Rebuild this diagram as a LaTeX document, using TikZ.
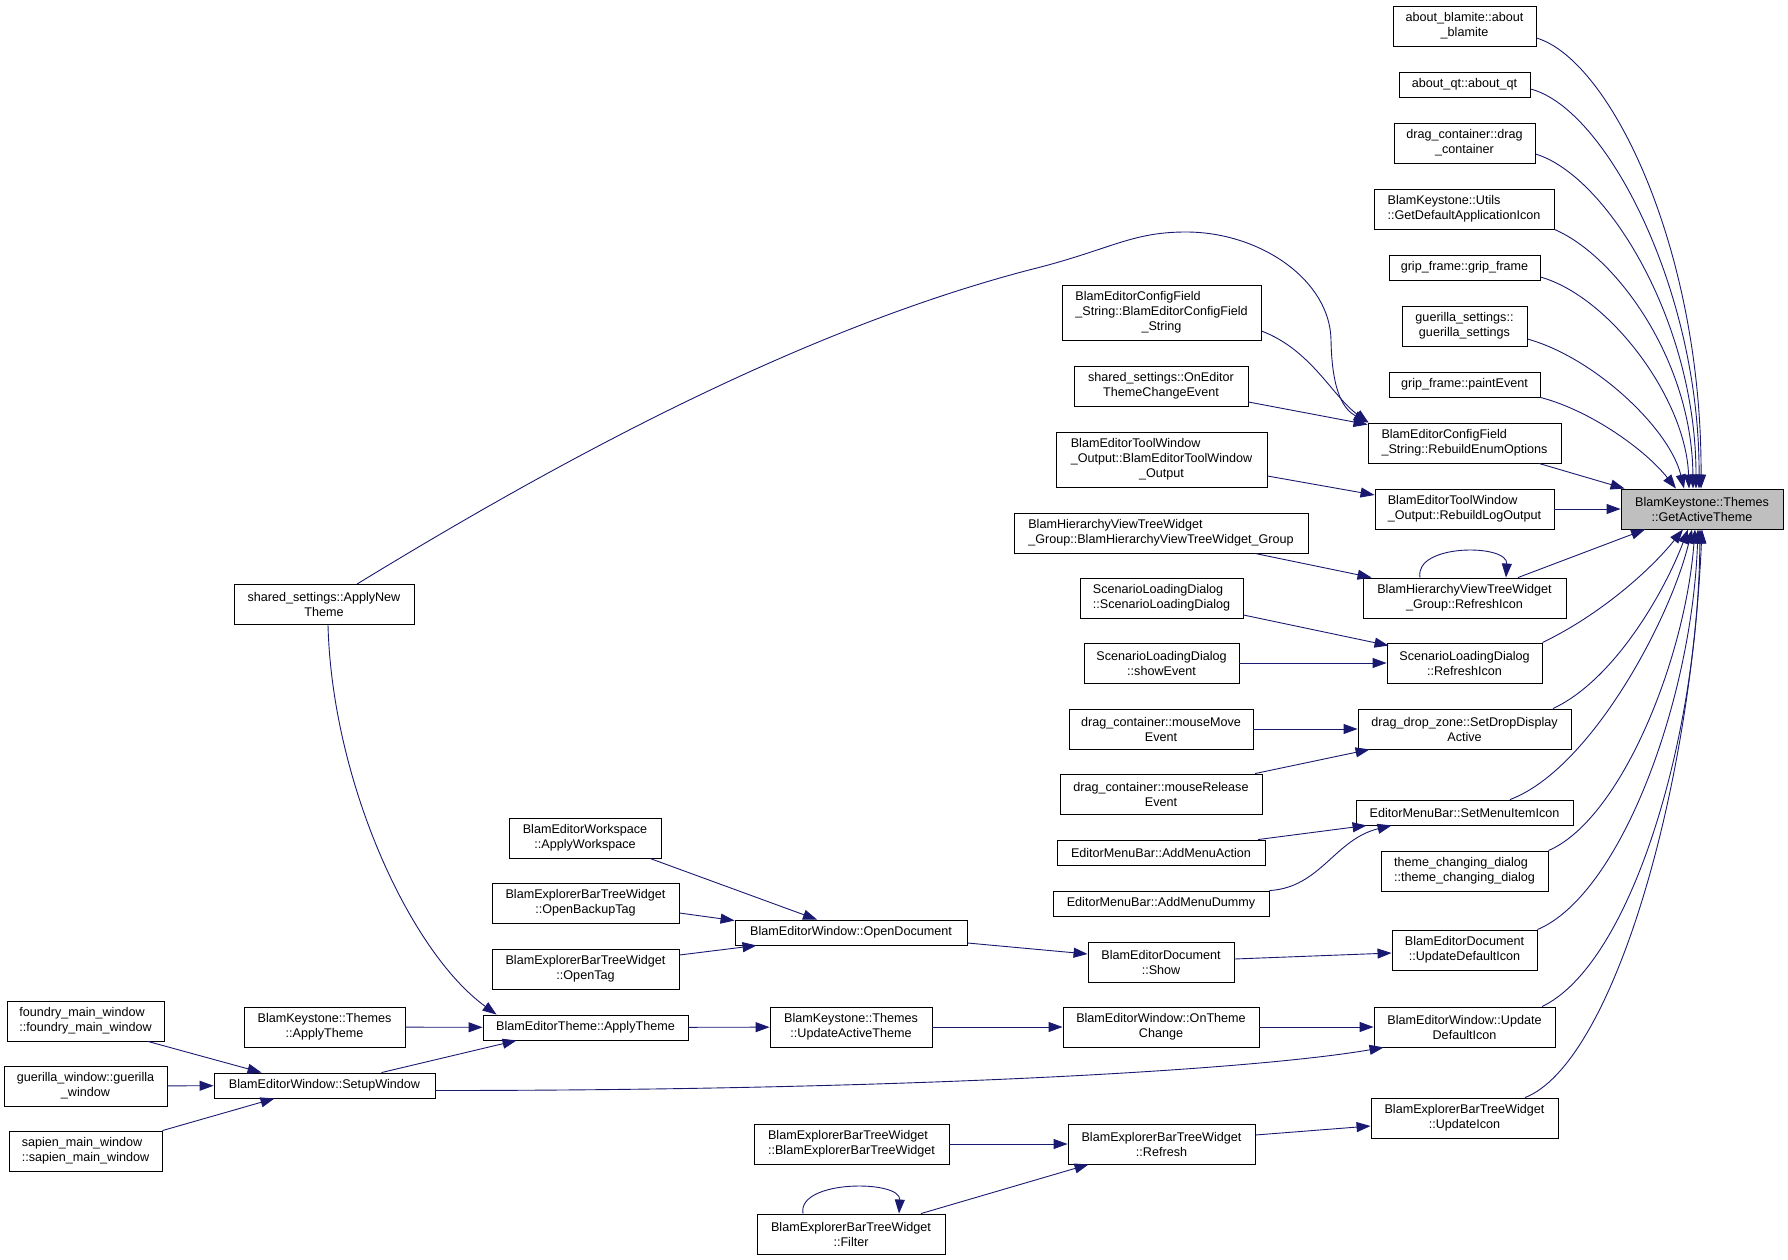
\documentclass[tikz,border=0pt]{standalone}
\usepackage{fontspec}
\setmainfont{Liberation Sans}
\usepackage{xcolor}
\usepackage{tikz}
\usetikzlibrary{arrows.meta}
\definecolor{edgeNavy}{RGB}{25,25,112}
\definecolor{targetGray}{RGB}{191,191,191}
% first line set flush left against a longer line below it
\newcommand{\padl}[2]{\rlap{#1}\phantom{#2}}

\begin{document}
\begin{tikzpicture}[
    x=1pt, y=-1pt,
    fnbox/.style={rectangle, draw=black, fill=white, line width=0.9pt, inner xsep=3pt, inner ysep=1pt, align=center, font=\fontsize{12.6}{15}\selectfont, minimum height=25pt},
    tall/.style={minimum height=40pt},
    taller/.style={minimum height=55pt},
    wd/.style={minimum width=#1pt},
    call/.style={draw=edgeNavy, line width=0.9pt, -{Triangle[length=14pt, width=10pt]}}
]
\useasboundingbox (0,0) rectangle (1788,1260);

% Target function
\node[fnbox, tall, wd=162, fill=targetGray] (T) at (1702,509) {BlamKeystone::Themes\\::GetActiveTheme};

% Direct callers
\node[fnbox, tall, wd=143] (ab) at (1464.5,26) {about\_blamite::about\\\_blamite};
\node[fnbox, wd=131] (aq) at (1464.5,84.5) {about\_qt::about\_qt};
\node[fnbox, tall, wd=141] (dc) at (1464.5,143) {drag\_container::drag\\\_container};
\node[fnbox, tall, wd=180, align=left] (gdi) at (1464,209) {BlamKeystone::Utils\\::GetDefaultApplicationIcon};
\node[fnbox, wd=151] (gg) at (1464.5,267.5) {grip\_frame::grip\_frame};
\node[fnbox, tall, wd=125] (gs) at (1464.5,326) {guerilla\_settings::\\guerilla\_settings};
\node[fnbox, wd=151] (gp) at (1464.5,384.5) {grip\_frame::paintEvent};
\node[fnbox, tall, wd=193, align=left] (reo) at (1464.5,443) {BlamEditorConfigField\\\_String::RebuildEnumOptions};
\node[fnbox, tall, wd=179, align=left] (rlo) at (1464.5,509) {BlamEditorToolWindow\\\_Output::RebuildLogOutput};
\node[fnbox, tall, wd=203] (hri) at (1464.5,598) {BlamHierarchyViewTreeWidget\\\_Group::RefreshIcon};
\node[fnbox, tall, wd=155] (sri) at (1464.5,663) {ScenarioLoadingDialog\\::RefreshIcon};
\node[fnbox, tall, wd=213] (sdd) at (1464.5,729) {drag\_drop\_zone::SetDropDisplay\\Active};
\node[fnbox, wd=217] (smi) at (1464.5,812.5) {EditorMenuBar::SetMenuItemIcon};
\node[fnbox, tall, wd=167, align=left] (tcd) at (1464.5,871) {theme\_changing\_dialog\\::theme\_changing\_dialog};
\node[fnbox, tall, wd=145] (udi) at (1464.5,950) {BlamEditorDocument\\::UpdateDefaultIcon};
\node[fnbox, tall, wd=181] (wud) at (1464.5,1027) {BlamEditorWindow::Update\\DefaultIcon};
\node[fnbox, tall, wd=187] (ui) at (1464.5,1118) {BlamExplorerBarTreeWidget\\::UpdateIcon};

% Second level
\node[fnbox, taller, wd=199] (cfs) at (1161.5,312.5) {\padl{BlamEditorConfigField}{\_String::BlamEditorConfigField}\\\_String::BlamEditorConfigField\\\_String};
\node[fnbox, tall, wd=174] (oet) at (1161,386) {shared\_settings::OnEditor\\ThemeChangeEvent};
\node[fnbox, taller, wd=211] (toc) at (1161.5,459.5) {\padl{BlamEditorToolWindow}{\_Output::BlamEditorToolWindow}\\\_Output::BlamEditorToolWindow\\\_Output};
\node[fnbox, tall, wd=294, align=left] (hvc) at (1161,533) {BlamHierarchyViewTreeWidget\\\_Group::BlamHierarchyViewTreeWidget\_Group};
\node[fnbox, tall, wd=163, align=left] (sldc) at (1161.5,598) {ScenarioLoadingDialog\\::ScenarioLoadingDialog};
\node[fnbox, tall, wd=155] (sse) at (1161.5,663) {ScenarioLoadingDialog\\::showEvent};
\node[fnbox, tall, wd=184] (mm) at (1161,729) {drag\_container::mouseMove\\Event};
\node[fnbox, tall, wd=202] (mr) at (1161,794) {drag\_container::mouseRelease\\Event};
\node[fnbox, wd=208] (ama) at (1161,852.5) {EditorMenuBar::AddMenuAction};
\node[fnbox, wd=216] (amd) at (1161,903.5) {EditorMenuBar::AddMenuDummy};
\node[fnbox, tall, wd=146] (show) at (1161,962) {BlamEditorDocument\\::Show};
\node[fnbox, tall, wd=196] (otc) at (1161,1027) {BlamEditorWindow::OnTheme\\Change};
\node[fnbox, tall, wd=187] (ref) at (1161.5,1144) {BlamExplorerBarTreeWidget\\::Refresh};

% Third level
\node[fnbox, wd=232] (od) at (851,932.5) {BlamEditorWindow::OpenDocument};
\node[fnbox, tall, wd=162] (uat) at (851,1027) {BlamKeystone::Themes\\::UpdateActiveTheme};
\node[fnbox, tall, wd=195, align=left] (ebc) at (851.5,1144) {BlamExplorerBarTreeWidget\\::BlamExplorerBarTreeWidget};
\node[fnbox, tall, wd=188] (fil) at (851,1234) {BlamExplorerBarTreeWidget\\::Filter};

% Fourth level
\node[fnbox, tall, wd=152] (aw) at (585,838) {BlamEditorWorkspace\\::ApplyWorkspace};
\node[fnbox, tall, wd=187] (obt) at (585.5,903) {BlamExplorerBarTreeWidget\\::OpenBackupTag};
\node[fnbox, tall, wd=187] (ot) at (585.5,969) {BlamExplorerBarTreeWidget\\::OpenTag};
\node[fnbox, wd=205] (eat) at (585.5,1027.5) {BlamEditorTheme::ApplyTheme};

% Fifth level
\node[fnbox, tall, wd=180] (ant) at (324,604.5) {shared\_settings::ApplyNew\\Theme};
\node[fnbox, tall, wd=161] (kat) at (324.5,1027) {BlamKeystone::Themes\\::ApplyTheme};
\node[fnbox, wd=221] (sw) at (324.5,1085.5) {BlamEditorWindow::SetupWindow};

% Window constructors
\node[fnbox, tall, wd=157, align=left] (fmw) at (85.5,1021) {foundry\_main\_window\\::foundry\_main\_window};
\node[fnbox, tall, wd=163] (gw) at (85.5,1086) {guerilla\_window::guerilla\\\_window};
\node[fnbox, tall, wd=153, align=left] (smw) at (85.5,1151) {sapien\_main\_window\\::sapien\_main\_window};

% Fan into the target, from above
\draw[call] ([yshift=-12pt]ab.east) .. controls +(74,22) and +(1,-239) .. ([xshift=-1pt]T.north);
\draw[call] ([yshift=-4.5pt]aq.east) .. controls +(75,19) and +(1,-199) .. ([xshift=-3pt]T.north);
\draw[call] ([yshift=-11pt]dc.east) .. controls +(70,21) and +(0,-169) .. ([xshift=-6pt]T.north);
\draw[call] (gdi.south east) .. controls +(61,26) and +(-1,-129) .. ([xshift=-9pt]T.north);
\draw[call] ([yshift=-9.5pt]gg.east) .. controls +(70,20) and +(-3,-89) .. ([xshift=-13pt]T.north);
\draw[call] ([yshift=-13pt]gs.east) .. controls +(68,19) and +(-14,-59) .. ([xshift=-18pt]T.north);
\draw[call] (gp.south east) .. controls +(50,13) and +(-31,-39) .. ([xshift=-26pt]T.north);
\draw[call] ([xshift=74.5pt]reo.south) -- ([xshift=4pt]T.north west);
\draw[call] (rlo) -- (T);

% Fan into the target, from below
\draw[call] ([xshift=53.5pt]hri.north) -- ([xshift=-57pt]T.south);
\draw[call] (sri.north east) .. controls +(58,-28) and +(-33,41) .. ([xshift=-19pt]T.south);
\draw[call] ([xshift=88.5pt]sdd.north) .. controls +(62,-29) and +(-23,61) .. ([xshift=-14pt]T.south);
\draw[call] ([xshift=45.5pt]smi.north) .. controls +(80,-30) and +(-22,91) .. ([xshift=-10pt]T.south);
\draw[call] (tcd.north east) .. controls +(72,-31) and +(-10,131) .. ([xshift=-7pt]T.south);
\draw[call] (udi.north east) .. controls +(83,-35) and +(-6,171) .. ([xshift=-4pt]T.south);
\draw[call] ([xshift=77.5pt]wud.north) .. controls +(88,-42) and +(-2,211) .. ([xshift=-2pt]T.south);
\draw[call] ([xshift=60.5pt]ui.north) .. controls +(85,-33) and +(-12,271) .. (T.south);

% Second level edges
\draw[call] ([xshift=33pt]ant.north) .. controls (560,460) and (800,330) .. (1029,270)
    .. controls (1110,250) and (1130,232) .. (1186,232)
    .. controls (1260,232) and (1330,280) .. (1331,340)
    .. controls (1332,395) and (1345,410) .. (reo.north west);
\draw[call] ([yshift=-18.5pt]cfs.east) .. controls +(50,19) and +(-36,-26) .. ([xshift=1pt]reo.north west);
\draw[call] ([yshift=-16pt]oet.east) -- ([yshift=-2pt]reo.north west);
\draw[call] ([yshift=-16.5pt]toc.east) -- ([yshift=14pt]rlo.west);
\draw[call] ([xshift=94pt]hvc.south) -- ([xshift=9pt]hri.north west);
\draw[call] ([xshift=-44.5pt]hri.north) .. controls +(-6,-34) and +(2,-34) .. ([xshift=41.5pt]hri.north);
\draw[call] ([yshift=-17pt]sldc.east) -- ([xshift=2pt,yshift=-3pt]sri.north west);
\draw[call] (sse) -- (sri);
\draw[call] (mm) -- (sdd);
\draw[call] ([xshift=94pt]mr.north) -- ([xshift=12pt]sdd.south west);
\draw[call] ([xshift=97pt]ama.north) -- ([xshift=11pt]smi.south west);
\draw[call] (amd.north east) .. controls +(51,-3) and +(-57,14) .. ([xshift=36pt]smi.south west);
\draw[call] ([yshift=3pt]show.east) -- ([yshift=-3pt]udi.west);
\draw[call] (otc) -- (wud);
\draw[call] ([yshift=9pt]ref.east) -- ([yshift=-8pt]ui.west);

% Third level edges
\draw[call] ([yshift=-10.5pt]od.east) -- ([yshift=8pt]show.west);
\draw[call] (uat) -- (otc);
\draw[call] (ebc) -- (ref);
\draw[call] ([xshift=70pt]fil.north) -- ([xshift=21pt]ref.south west);
\draw[call] ([xshift=-48pt]fil.north) .. controls +(-6,-34) and +(2,-34) .. ([xshift=48pt]fil.north);

% Fourth level edges
\draw[call] ([xshift=65pt]aw.south) -- ([xshift=-34pt]od.north);
\draw[call] ([yshift=-10pt]obt.east) -- ([yshift=-1pt]od.north west);
\draw[call] ([yshift=14pt]ot.east) -- ([xshift=22pt]od.south west);
\draw[call] (eat) -- (uat);

% Fifth level edges
\draw[call] ([xshift=4pt]ant.south) .. controls +(4,156) and +(-87,-63) .. ([xshift=14pt]eat.north west);
\draw[call] (kat) -- (eat);
\draw[call] ([xshift=57pt]sw.north) -- ([xshift=34pt]eat.south west);
\draw[call] ([yshift=-5pt]sw.east) .. controls +(465,0) and +(-134,23) .. ([xshift=10pt]wud.south west);

% Window constructors
\draw[call] ([xshift=62.5pt]fmw.south) -- ([xshift=48pt]sw.north west);
\draw[call] (gw) -- (sw);
\draw[call] (smw.north east) -- ([xshift=61pt]sw.south west);

\end{tikzpicture}
\end{document}
